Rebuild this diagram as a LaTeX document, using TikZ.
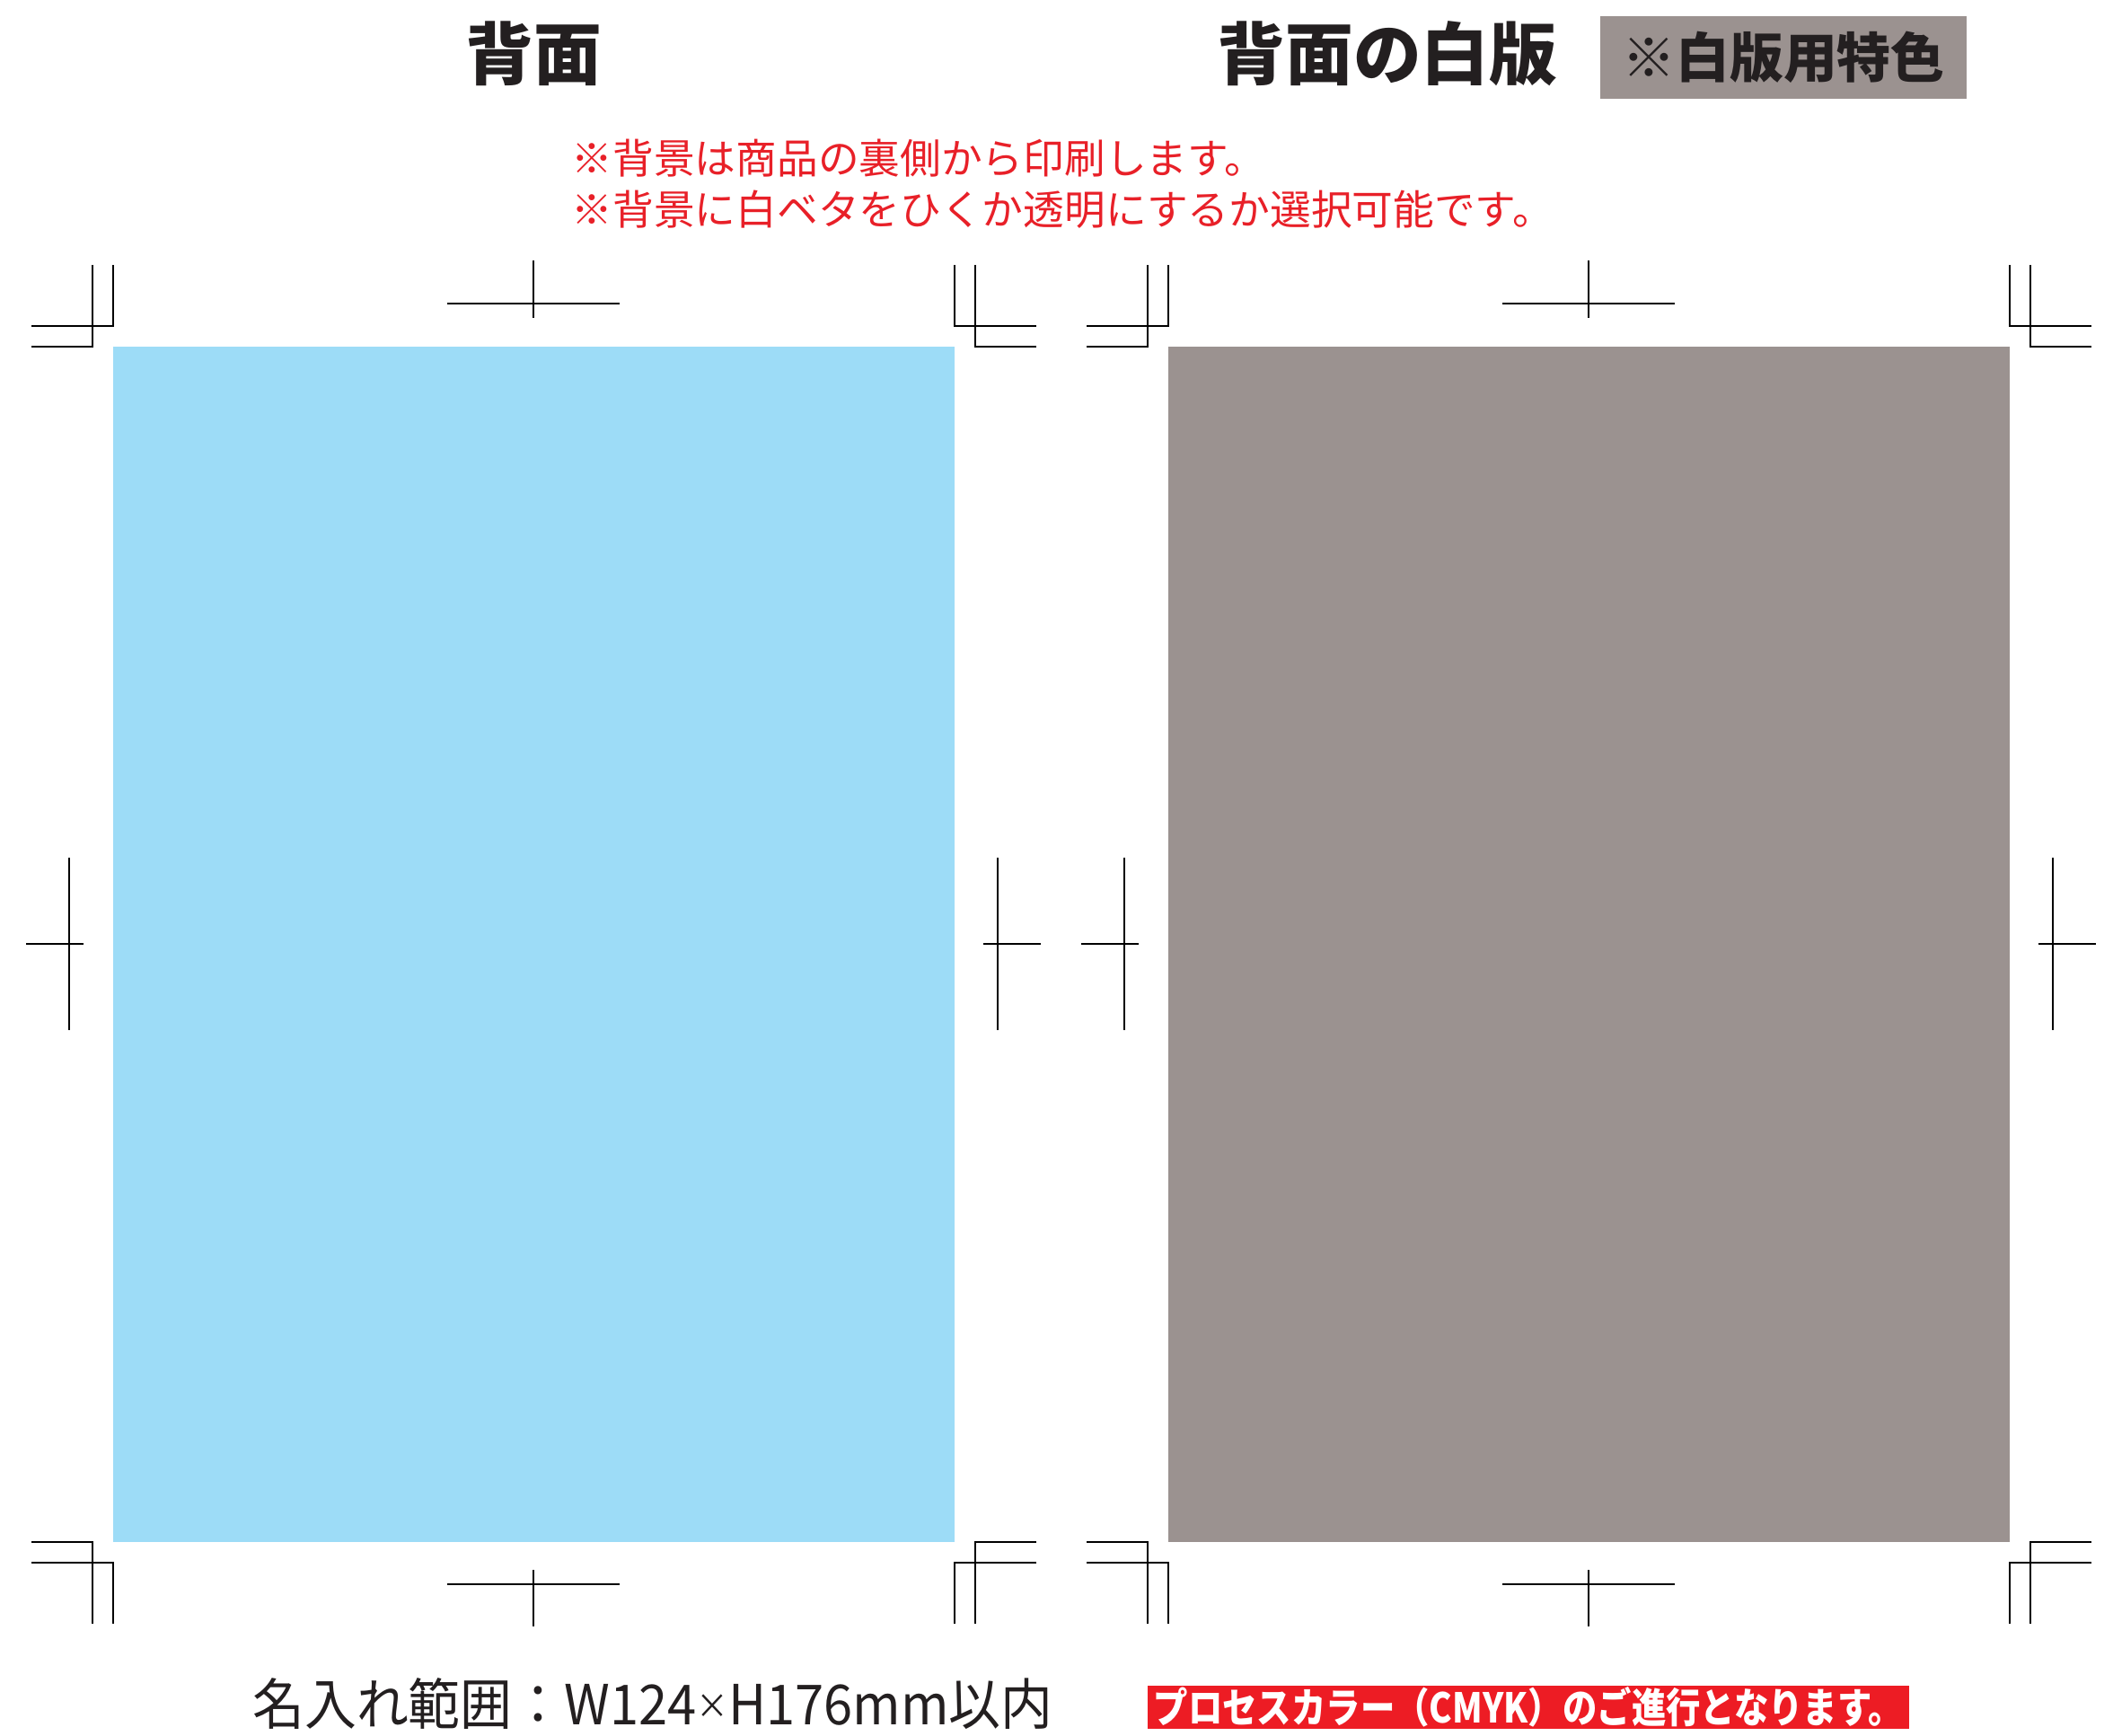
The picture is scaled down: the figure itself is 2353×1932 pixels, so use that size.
\documentclass[tikz,border=0pt]{standalone}
\usepackage{fontspec}
\usepackage{graphicx}
\newfontfamily\jpfont{Noto Sans CJK JP}
\definecolor{backblue}{RGB}{157,220,247}
\definecolor{plategray}{RGB}{155,146,144}
\definecolor{noticered}{RGB}{232,32,40}
\definecolor{boxred}{RGB}{237,28,36}
\definecolor{inkblack}{RGB}{35,31,32}
\tikzset{
  title/.style={font=\jpfont\bfseries\fontsize{21.5pt}{24pt}\selectfont, text=inkblack, inner sep=0pt},
  notice/.style={font=\jpfont\fontsize{13pt}{16.2pt}\selectfont, text=noticered, align=left, inner sep=0pt},
  cropline/.style={line width=0.45pt, black}
}
\begin{document}
\begin{tikzpicture}[x=0.01cm,y=-0.01cm]
	\useasboundingbox (0,0) rectangle (2353,1932);
	% panels
	\fill[backblue] (126,386) rectangle (1063,1717);
	\fill[plategray] (1301,386) rectangle (2238,1717);
	% crop marks
	\foreach \dx in {0,1175}{
		\begin{scope}[shift={(\dx,0)}, cropline]
		\draw (103,295) -- (103,386) -- (35,386);
		\draw (126,295) -- (126,363) -- (35,363);
		\draw (1063,295) -- (1063,363) -- (1154,363);
		\draw (1086,295) -- (1086,386) -- (1154,386);
		\draw (35,1717) -- (103,1717) -- (103,1808);
		\draw (35,1740) -- (126,1740) -- (126,1808);
		\draw (1154,1717) -- (1086,1717) -- (1086,1808);
		\draw (1154,1740) -- (1063,1740) -- (1063,1808);
		\draw (498,338) -- (690,338);
		\draw (594,290) -- (594,354);
		\draw (498,1764) -- (690,1764);
		\draw (594,1748) -- (594,1811);
		\draw (77,955) -- (77,1147);
		\draw (29,1051) -- (93,1051);
		\draw (1111,955) -- (1111,1147);
		\draw (1095,1051) -- (1159,1051);
		\end{scope}
	}
	% titles
	\node[title] (back) at (594,60) {背面};
	\node[title] (backwhite) at (1545,60) {背面の白版};
	\node[fill=plategray, minimum width=4.07cm, minimum height=0.91cm, inner sep=0pt,
		font=\jpfont\bfseries\fontsize{17pt}{20pt}\selectfont, text=inkblack] (special) at (1986,64) {※白版用特色};
	% notes
	\node[notice, anchor=west] (note) at (636,205) {※背景は商品の裏側から印刷します。\\※背景に白ベタをひくか透明にするか選択可能です。};
	\node[font=\jpfont\fontsize{17.5pt}{20pt}\selectfont, text=inkblack, inner sep=0pt] (area) at (727,1897)
		{\scalebox{0.94}[1]{名入れ範囲：W124\raisebox{0.12em}{\scalebox{0.62}{×}}H176mm以内}};
	\node[fill=boxred, minimum width=8.48cm, minimum height=0.48cm, inner sep=0pt,
		font=\jpfont\bfseries\fontsize{13pt}{15pt}\selectfont, text=white] (process) at (1702,1901)
		{\scalebox{0.84}[1]{プロセスカラー（CMYK）のご進行となります。}};
\end{tikzpicture}
\end{document}
